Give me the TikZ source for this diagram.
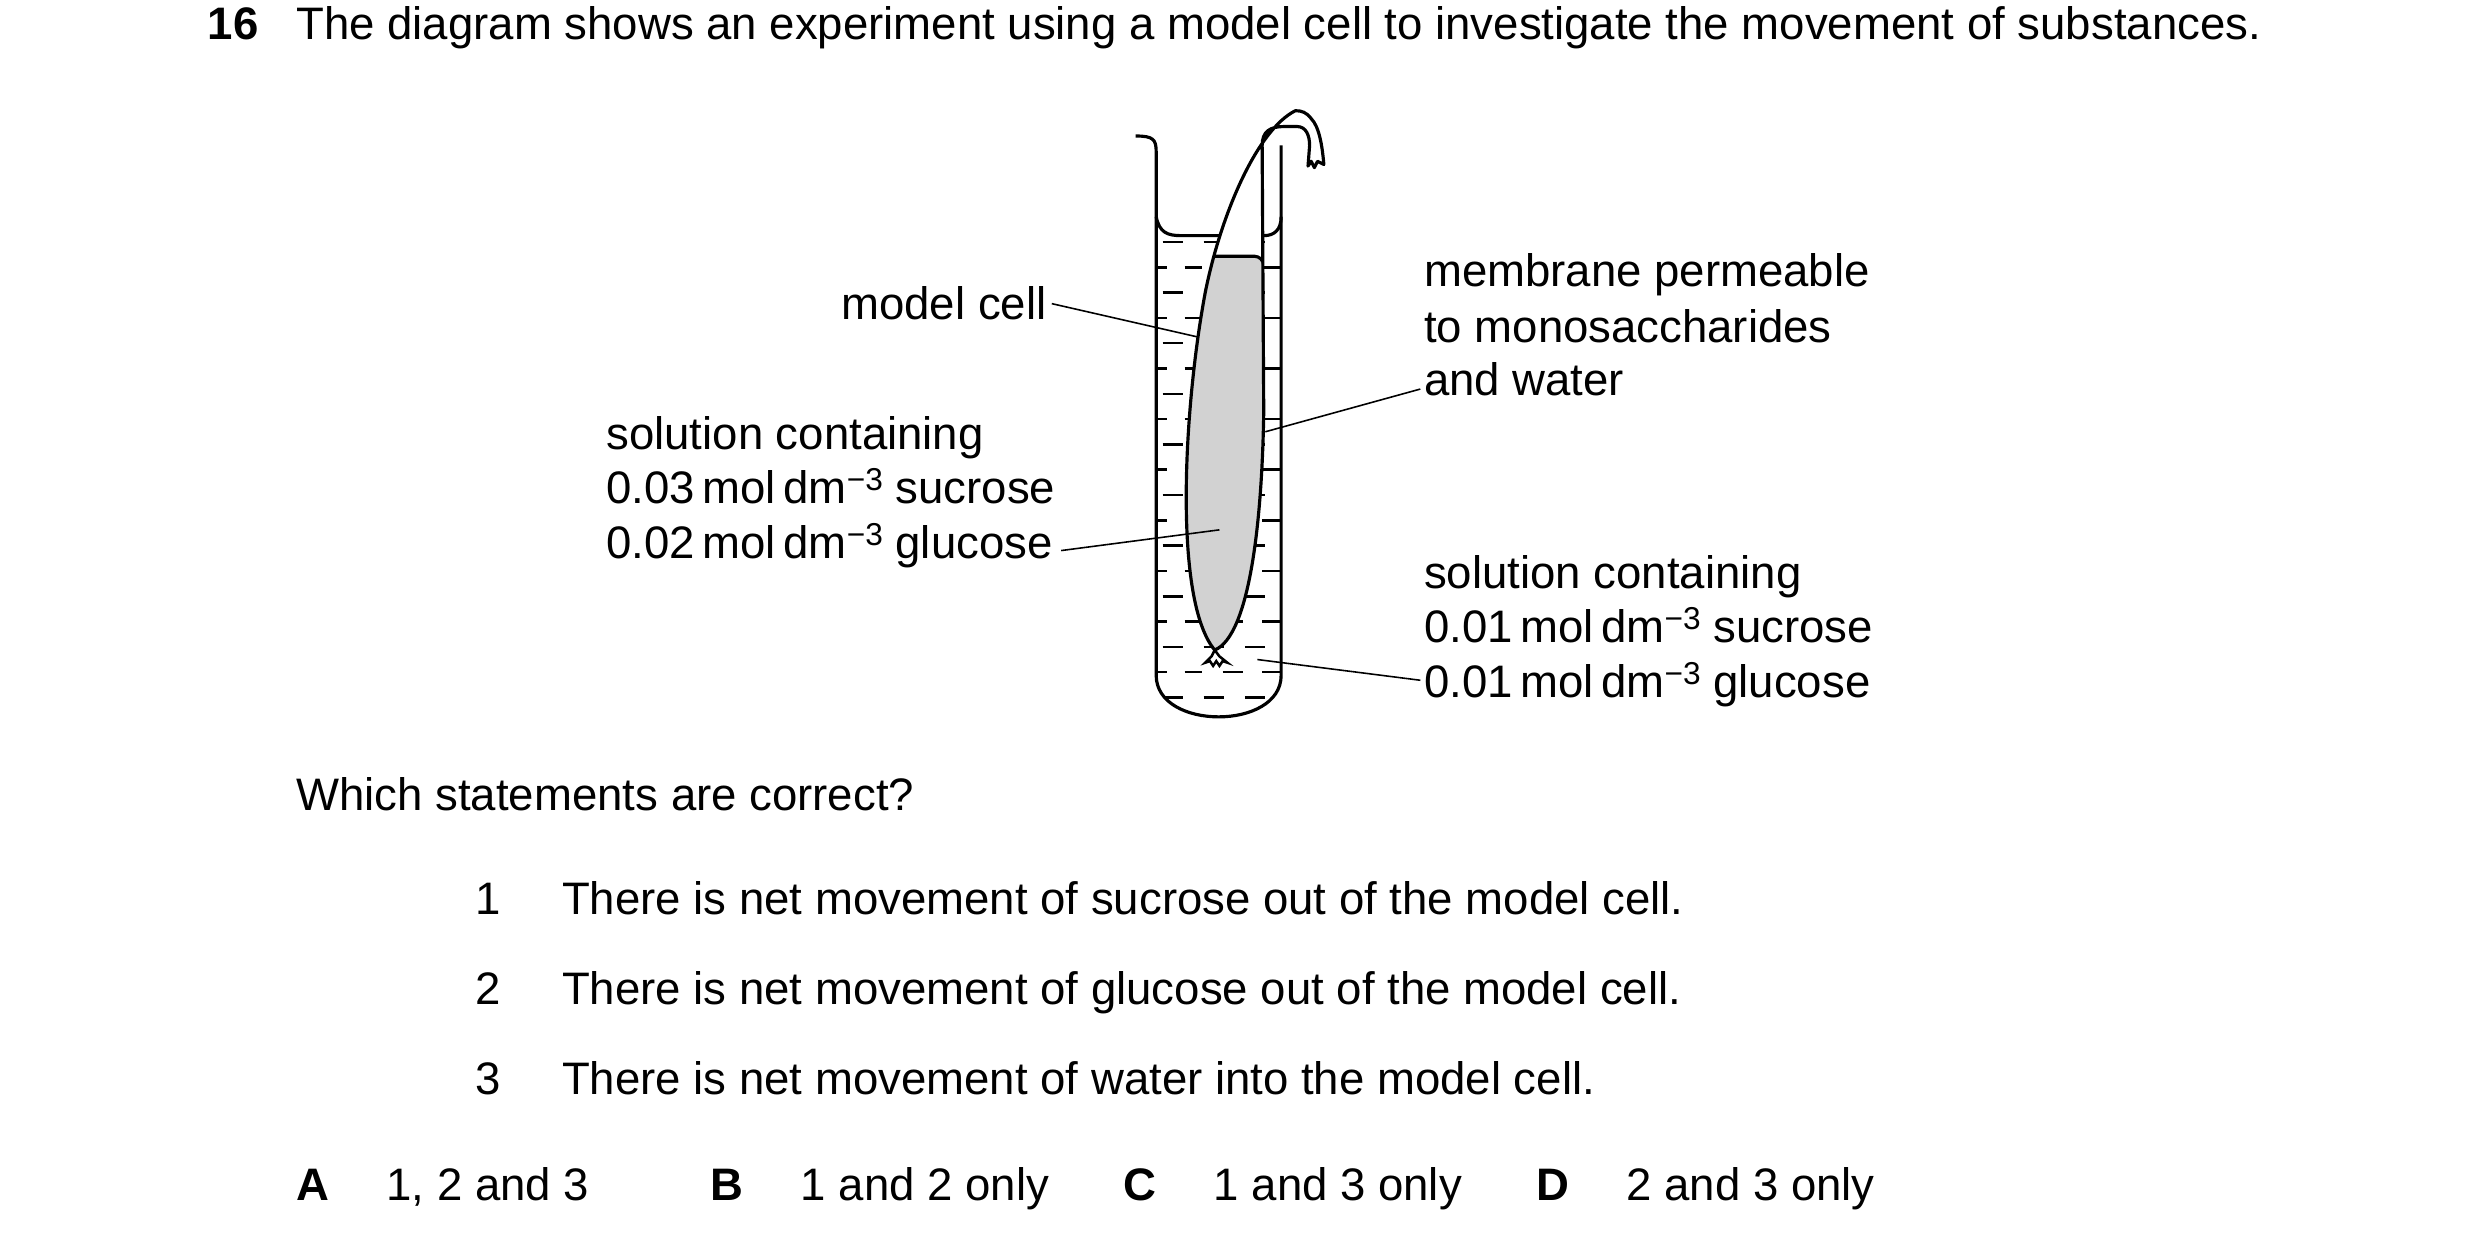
\documentclass[tikz,border=0pt]{standalone}
\usepackage{fontspec}
\setmainfont{Liberation Sans}
\newcommand{\expo}[1]{\raisebox{0.55ex}{\fontsize{10}{10}\selectfont#1}}
\begin{document}
\begin{tikzpicture}[x=0.5pt,y=0.5pt,yscale=-1,xscale=1,
  txt/.style={anchor=mid west,inner sep=0pt,font=\fontsize{14.4}{17}\selectfont},
  wall/.style={line width=1pt,line join=round},
  leader/.style={line width=0.5pt},
  liqdash/.style={line width=0.8pt}]
\useasboundingbox (0,0) rectangle (1568,795);

% question
\node[txt,font=\fontsize{14.4}{17}\selectfont\bfseries] (qnum) at (131,20) {16};
\node[txt] (qtext) at (187,20) {The diagram shows an experiment using a model cell to investigate the movement of substances.};

% liquid dashes, clipped to the tube
\begin{scope}
\clip (731,149) -- (731,427) .. controls (731,462) and (810,462) .. (810,427) -- (810,149) -- cycle;
\foreach \y [count=\i] in {153,169,185,201,217,233,249,265,281,297,313,329,345,361,377,393,409,425,441}{
  \ifodd\i
    \draw[liqdash] (735,\y) -- (748,\y) (761,\y) -- (774,\y) (787,\y) -- (800,\y);
  \else
    \draw[liqdash] (729,\y) -- (738,\y) (749,\y) -- (760,\y) (773,\y) -- (786,\y) (798,\y) -- (810,\y);
  \fi
}
\end{scope}

% tube and meniscus
\draw[wall] (718,86) .. controls (729,86) and (731,88) .. (731,96) -- (731,427)
  .. controls (731,462) and (810,462) .. (810,427) -- (810,92);
\draw[wall] (731,137) .. controls (733,147) and (738,149) .. (747,149) -- (771,149);
\draw[wall] (799,149) .. controls (806,149) and (810,145) .. (810,137);

% model cell
\coordinate (tip) at (768,411);
\path[save path=\cellpath] (819,70) .. controls (795,82) and (772,135) .. (762,185)
  .. controls (748,260) and (742,380) .. (tip)
  .. controls (790,402) and (798,330) .. (799,260) -- (798,92)
  .. controls (798,83) and (803,80) .. (812,80) -- (820,80)
  .. controls (826,80) and (828,86) .. (828,92) -- (827,105)
  -- (829,102) -- (831,106) -- (833,102) -- (837,104)
  .. controls (836,92) and (834,80) .. (829,75) .. controls (826,71) and (823,70) .. (819,70) -- cycle;
\fill[white, use path=\cellpath];
\begin{scope}
\clip[use path=\cellpath];
\fill[gray!35, rounded corners=3pt] (740,162) rectangle (799,430);
\draw[wall, rounded corners=3pt] (740,170) -- (740,162) -- (799,162) -- (799,170);
\end{scope}
\draw[wall, use path=\cellpath];
% tie at the bottom
\draw[line width=0.8pt] (tip) -- (766,415) -- (762,419) -- (765,418) -- (767,421) -- (769,418)
  -- (771,421) -- (773,418) -- (776,419) -- (771,415) -- (tip);

% labels
\node[txt,anchor=mid east] (lcell) at (662,197) {model cell};
\node[txt] (lin1) at (383,279) {solution containing};
\node[txt] (lin2) at (383,313) {0.03\,mol\,dm\expo{−3} sucrose};
\node[txt] (lin3) at (383,348) {0.02\,mol\,dm\expo{−3} glucose};
\node[txt] (lmem1) at (900,176) {membrane permeable};
\node[txt] (lmem2) at (900,211) {to monosaccharides};
\node[txt] (lmem3) at (900,245) {and water};
\node[txt] (lout1) at (900,367) {solution containing};
\node[txt] (lout2) at (900,401) {0.01\,mol\,dm\expo{−3} sucrose};
\node[txt] (lout3) at (900,436) {0.01\,mol\,dm\expo{−3} glucose};

\coordinate (pcell) at (757,213);
\coordinate (pin) at (771,335);
\coordinate (pmem) at (800,273);
\coordinate (pout) at (795,417);
\draw[leader] (lcell.east) ++(3,0) -- (pcell);
\draw[leader] (lin3.east) ++(5,3) -- (pin);
\draw[leader] (lmem3.west) ++(-2,6) -- (pmem);
\draw[leader] (lout3.west) ++(-2,-3) -- (pout);

% statements
\node[txt] (which) at (187,507) {Which statements are correct?};
\foreach \n/\y/\s in {1/573/sucrose out of, 2/630/glucose out of, 3/687/water into}{
  \node[txt] (num\n) at (300,\y) {\n};
  \node[txt] (st\n) at (355,\y) {There is net movement of \s\ the model cell.};
}

% options
\foreach \k/\x/\t in {A/187/{1, 2 and 3},B/449/{1 and 2 only},C/710/{1 and 3 only},D/971/{2 and 3 only}}{
  \node[txt,font=\fontsize{14.4}{17}\selectfont\bfseries] (opt\k) at (\x,754) {\k};
  \node[txt] (ans\k) at (\x+57,754) {\t};
}
\end{tikzpicture}
\end{document}
